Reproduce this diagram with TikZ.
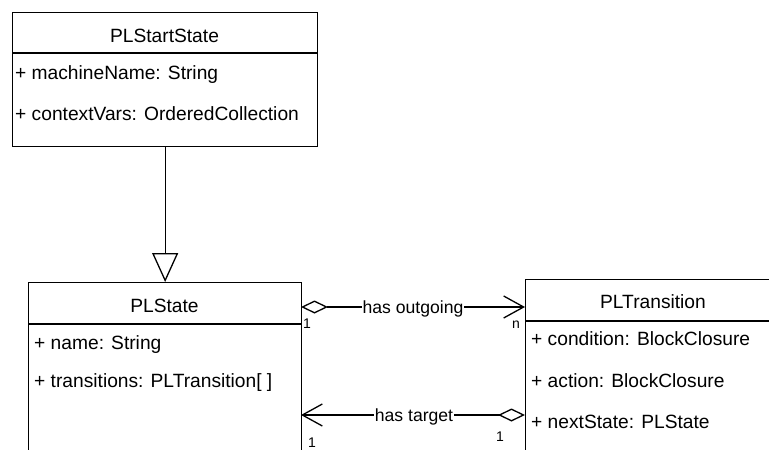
\documentclass[tikz,border=0pt]{standalone}
\usepackage{fontspec}
\setmainfont{Liberation Sans}
\usetikzlibrary{arrows.meta}
\begin{document}
\begin{tikzpicture}[x=1pt,y=-1pt,
  umlbox/.style={draw, line width=1.3pt, inner sep=0pt, anchor=north west},
  ttl/.style={anchor=base, inner sep=0pt, font=\fontsize{19.2}{23}\selectfont},
  attr/.style={anchor=base west, inner sep=0pt, font=\fontsize{19.2}{23}\selectfont},
  elabel/.style={fill=white, inner sep=1pt, anchor=base, font=\fontsize{17.6}{20}\selectfont},
  mult/.style={inner sep=0pt, font=\fontsize{14}{16}\selectfont},
  conn/.style={line width=1.3pt}
]
\useasboundingbox (0,0) rectangle (769,450);
\clip (0,0) rectangle (769,450);

% PLStartState
\node[umlbox, minimum width=305pt, minimum height=134pt] (start) at (12,12) {};
\draw[line width=1.3pt] (12,53) -- (317,53);
\node[ttl] (startT) at (164.5,42) {PLStartState};
\node[attr] (startA1) at (15,79) {+ machineName: String};
\node[attr] (startA2) at (15,120) {+ contextVars: OrderedCollection};

% PLState
\node[umlbox, minimum width=273pt, minimum height=200pt] (state) at (28,282) {};
\draw[line width=1.3pt] (28,324) -- (301,324);
\node[ttl] (stateT) at (164.5,312) {PLState};
\node[attr] (stateA1) at (34,349) {+ name: String};
\node[attr] (stateA2) at (34,387) {+ transitions: PLTransition[ ]};

% PLTransition
\node[umlbox, minimum width=256pt, minimum height=200pt] (trans) at (525,279) {};
\draw[line width=1.3pt] (525,321) -- (781,321);
\node[ttl] (transT) at (653,308) {PLTransition};
\node[attr] (transA1) at (531,345) {+ condition: BlockClosure};
\node[attr] (transA2) at (531,387) {+ action: BlockClosure};
\node[attr] (transA3) at (531,428) {+ nextState: PLState};

% inheritance
\draw[conn, -{Triangle[open, length=29pt, width=26pt]}] (start.south) -- (state.north);

% has outgoing
\coordinate (o1) at (301,307);
\coordinate (o2) at (525,307);
\draw[conn, {Diamond[open, length=27pt, width=13pt]}-{Straight Barb[length=20pt, width=22pt]}] (o1) -- (o2);
\node[elabel] (lo) at (413,313) {has outgoing};
\node[mult, anchor=base west] (m1) at (303,328) {1};
\node[mult, anchor=base east] (m2) at (520,328) {n};

% has target
\coordinate (t1) at (525,415);
\coordinate (t2) at (301,415);
\draw[conn, {Diamond[open, length=27pt, width=13pt]}-{Straight Barb[length=20pt, width=22pt]}] (t1) -- (t2);
\node[elabel] (lt) at (414,421) {has target};
\node[mult, anchor=base west] (m3) at (308,447) {1};
\node[mult, anchor=base west] (m4) at (496,441) {1};
\end{tikzpicture}
\end{document}
